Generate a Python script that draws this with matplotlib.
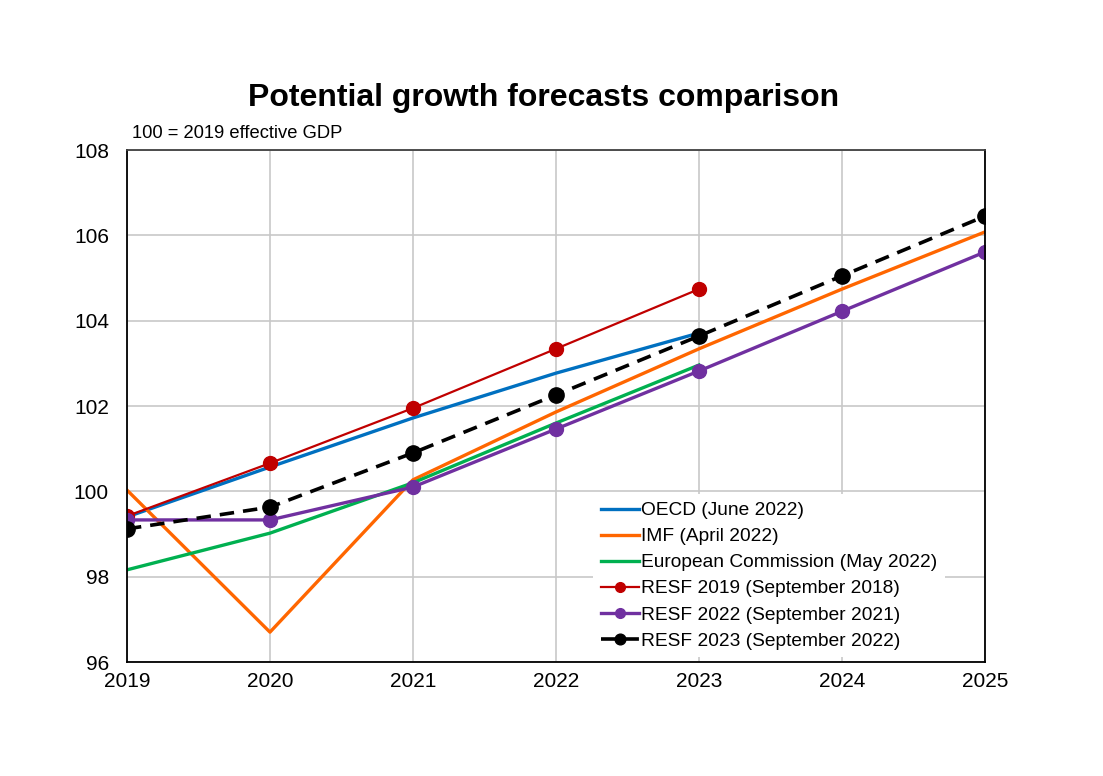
import matplotlib

matplotlib.use("Agg")
import matplotlib.pyplot as plt

plt.rcParams["font.family"] = ["Liberation Sans", "DejaVu Sans"]

years = [2019, 2020, 2021, 2022, 2023, 2024, 2025]

oecd = [99.40, 100.57, 101.72, 102.77, 103.71]
imf = [100.03, 96.70, 100.27, 101.86, 103.34, 104.74, 106.08]
ec = [98.16, 99.02, 100.20, 101.60, 102.96]
resf2019 = [99.42, 100.66, 101.95, 103.34, 104.74]
resf2022 = [99.33, 99.33, 100.10, 101.46, 102.82, 104.22, 105.61]
resf2023 = [99.12, 99.63, 100.90, 102.26, 103.64, 105.05, 106.45]

fig = plt.figure(figsize=(11.03, 7.76), dpi=100)
ax = fig.add_axes([0.1151, 0.1469, 0.7779, 0.6598])

ax.plot(years[:5], oecd, color="#0070C0", lw=2.4, label="OECD (June 2022)")
ax.plot(years, imf, color="#FF6600", lw=2.4, label="IMF (April 2022)")
ax.plot(years[:5], ec, color="#00B050", lw=2.4, label="European Commission (May 2022)")
ax.plot(years[:5], resf2019, color="#C00000", lw=1.6, marker="o", ms=10,
        label="RESF 2019 (September 2018)")
ax.plot(years, resf2022, color="#7030A0", lw=2.4, marker="o", ms=10,
        label="RESF 2022 (September 2021)")
ax.plot(years, resf2023, color="black", lw=2.6, ls=(0, (4, 2.5)), marker="o", ms=11,
        label="RESF 2023 (September 2022)")

ax.set_xlim(2019, 2025)
ax.set_ylim(96, 108)
ax.set_xticks(years)
ax.set_yticks(range(96, 109, 2))
ax.tick_params(length=0, labelsize=15)
ax.tick_params(axis="y", pad=13)
ax.tick_params(axis="x", pad=7)
ax.grid(True, color="#c8c8c8", lw=1.2)
ax.set_axisbelow(True)
for s in ax.spines.values():
    s.set_linewidth(1.3)
ax.spines["top"].set_color("#404040")

fig.text(0.493, 0.874, "Potential growth forecasts comparison", ha="center", va="center",
         fontsize=23, fontweight="bold")
ax.text(0.006, 1.015, "100 = 2019 effective GDP", transform=ax.transAxes,
        ha="left", va="bottom", fontsize=13.2)

leg = ax.legend(loc="lower right", bbox_to_anchor=(0.959, 0.0), fontsize=13.8,
                frameon=True, facecolor="white", edgecolor="none", framealpha=1,
                handlelength=2.0, handletextpad=0.1, labelspacing=0.45,
                borderaxespad=0.25, markerscale=0.7)
leg.get_frame().set_linewidth(0)

fig.savefig("out.png", dpi=100)
